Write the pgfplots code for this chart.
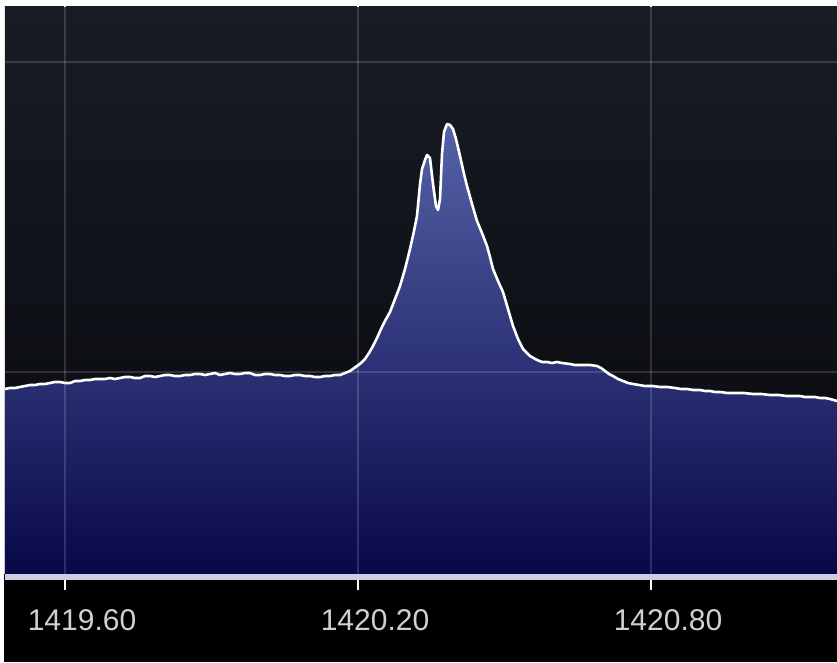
\documentclass[border=0pt]{standalone}
\usepackage{pgfplots}
\pgfplotsset{compat=1.18}
\usepackage{pgfplotstable}
\usepackage{fontspec}
\setmainfont{Liberation Sans}
\definecolor{bgtop}{HTML}{181C25}
\definecolor{bgbot}{HTML}{07080C}
\definecolor{filltop}{HTML}{5562A8}
\definecolor{fillmid}{HTML}{2E3790}
\definecolor{fillbot}{HTML}{080848}
\definecolor{barline}{HTML}{CCCCE2}
\definecolor{ticklab}{HTML}{D0D0D0}
\pgfplotstableread{
f y
1419.4771 185
1419.4874 186
1419.4976 186
1419.5079 187
1419.5181 188
1419.5283 189
1419.5386 189
1419.5488 190
1419.5590 190
1419.5693 191
1419.5795 192
1419.5898 192
1419.6000 191
1419.6102 191
1419.6205 193
1419.6307 193
1419.6410 194
1419.6512 194
1419.6614 195
1419.6717 195
1419.6819 195
1419.6922 196
1419.7024 195
1419.7126 196
1419.7229 197
1419.7331 197
1419.7434 196
1419.7536 196
1419.7638 198
1419.7741 198
1419.7843 197
1419.7945 198
1419.8048 199
1419.8150 199
1419.8253 198
1419.8355 198
1419.8457 199
1419.8560 199
1419.8662 200
1419.8765 200
1419.8867 199
1419.8969 200
1419.9072 201
1419.9174 199
1419.9277 200
1419.9379 201
1419.9481 200
1419.9584 200
1419.9686 201
1419.9788 201
1419.9891 199
1419.9993 199
1420.0096 200
1420.0198 200
1420.0300 199
1420.0403 199
1420.0505 198
1420.0608 198
1420.0710 199
1420.0812 199
1420.0915 198
1420.1017 198
1420.1120 197
1420.1222 197
1420.1324 198
1420.1427 198
1420.1529 199
1420.1631 199
1420.1734 201
1420.1836 203
1420.1980 208
1420.2062 211
1420.2143 215
1420.2225 221
1420.2307 228
1420.2389 236
1420.2471 245
1420.2563 254
1420.2655 262
1420.2758 275
1420.2860 288
1420.2962 305
1420.3065 325
1420.3147 343
1420.3208 358
1420.3270 390
1420.3311 405
1420.3372 414
1420.3413 419
1420.3474 416
1420.3536 390
1420.3597 368
1420.3638 364
1420.3679 375
1420.3720 420
1420.3761 442
1420.3823 450
1420.3884 449
1420.3945 445
1420.4007 435
1420.4089 418
1420.4171 400
1420.4232 388
1420.4335 370
1420.4437 353
1420.4539 341
1420.4642 328
1420.4703 317
1420.4765 305
1420.4867 293
1420.4969 282
1420.5072 265
1420.5174 248
1420.5277 235
1420.5379 225
1420.5522 218
1420.5666 214
1420.5768 212
1420.5870 212
1420.5973 211
1420.6075 212
1420.6177 211
1420.6341 210
1420.6444 209
1420.6546 209
1420.6649 209
1420.6751 209
1420.6894 208
1420.6976 206
1420.7058 203
1420.7140 200
1420.7222 198
1420.7325 195
1420.7427 193
1420.7529 191
1420.7631 190
1420.7754 189
1420.7877 188
1420.8031 188
1420.8184 187
1420.8338 187
1420.8492 186
1420.8614 185
1420.8737 185
1420.8871 184
1420.9004 184
1420.9106 183
1420.9208 183
1420.9311 182
1420.9413 182
1420.9567 181
1420.9720 181
1420.9905 181
1421.0089 180
1421.0263 180
1421.0437 179
1421.0611 179
1421.0785 178
1421.0918 178
1421.1051 178
1421.1153 177
1421.1256 177
1421.1358 177
1421.1461 176
1421.1563 176
1421.1666 175
1421.1740 174
1421.1809 173
}\spectrum
\begin{document}
\begin{tikzpicture}
\fill[white] (-5pt,-88pt) rectangle (832pt,574pt);
\fill[black] (-0.5pt,-88pt) rectangle (832pt,0pt);
\begin{axis}[
  at={(0pt,0pt)}, anchor=south west,
  scale only axis, width=832pt, height=567pt,
  xmin=1419.4771, xmax=1421.1809, ymin=0, ymax=567,
  axis background/.style={top color=bgtop, bottom color=bgbot},
  axis line style={draw=none},
  axis on top,
  xtick={1419.6,1420.2,1420.8},
  xticklabels={1419.60,1420.20,1420.80},
  ytick={202,512},
  yticklabels={},
  major tick length=16pt,
  tick align=outside,
  xtick style={draw=white, line width=2pt},
  ytick style={draw=none},
  xmajorgrids, ymajorgrids,
  major grid style={draw=white, draw opacity=0.15, line width=2.8pt},
  xticklabel style={font=\fontsize{30}{30}\selectfont, text=ticklab, xshift=17pt, yshift=-16pt},
  clip=true,
]
\addplot[draw=none, top color=filltop, middle color=fillmid, bottom color=fillbot] table[x=f, y=y] {\spectrum} \closedcycle;
\addplot[draw=white, line width=2.6pt, line join=round] table[x=f, y=y] {\spectrum};
\end{axis}
\fill[barline] (0pt,-6pt) rectangle (832pt,0pt);
\pgfresetboundingbox
\useasboundingbox (-5pt,-88pt) rectangle (832pt,574pt);
\end{tikzpicture}
\end{document}
